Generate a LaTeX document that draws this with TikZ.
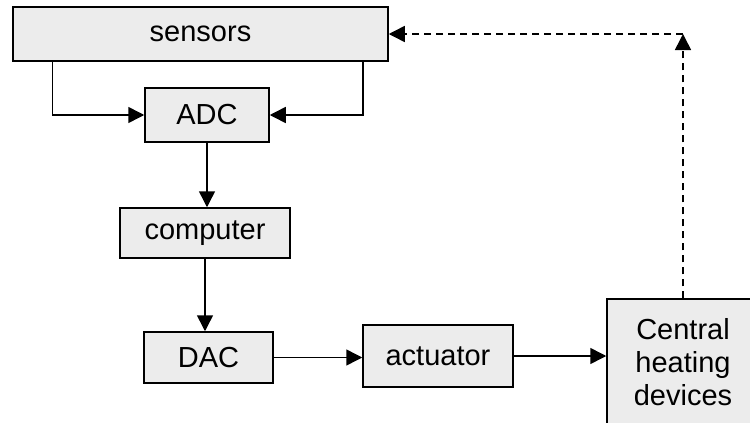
\documentclass[tikz,border=0pt]{standalone}
\usepackage{fontspec}
\setmainfont{Liberation Sans}
\usetikzlibrary{positioning,arrows.meta}

\begin{document}
\begin{tikzpicture}[x=1pt,y=-1pt,>={Triangle[length=16pt,width=16pt]},line width=1.5pt,
  block/.style={draw,rectangle,fill=gray!15,inner sep=0pt,align=center,font=\fontsize{29}{33}\selectfont},
  feedback/.style={->,dashed,dash pattern=on 7pt off 5pt}]

	\useasboundingbox (0,0) rectangle (750,423);

	% The blocks
	\node [block,minimum width=375,minimum height=54] at (200.5,34) (sensors) {sensors};
	\node [block,minimum width=124,minimum height=54] at (207,115) (adc) {ADC};
	\node [block,minimum width=170,minimum height=50] at (205,233) (computer) {computer};
	\node [block,minimum width=129,minimum height=51] at (208.5,357.5) (dac) {DAC};
	\node [block,minimum width=150,minimum height=62] at (438,356) (actuator) {actuator};
	\node [block,minimum width=152,minimum height=126] at (683,362) (central) {Central\\heating\\devices};
	\coordinate (fb) at (central.north |- sensors.east);

	% Block edges
	\path[->]
	([xshift=40]sensors.south west) edge[to path={|- (\tikztotarget)}] (adc.west)
	([xshift=-26]sensors.south east) edge[to path={|- (\tikztotarget)}] (adc.east)
	(adc.south) edge (adc.south |- computer.north)
	(computer.south) edge (computer.south |- dac.north)
	(dac.east) edge (dac.east -| actuator.west)
	(actuator.east) edge (actuator.east -| central.west);

	\path[feedback]
	(central.north) edge (fb)
	(fb) edge (sensors.east);

\end{tikzpicture}
\end{document}
